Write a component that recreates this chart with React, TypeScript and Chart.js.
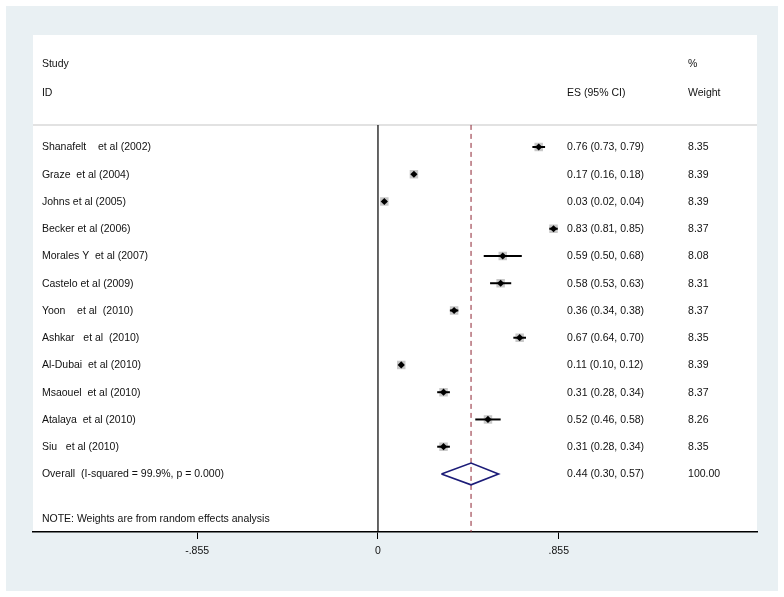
import React, { useEffect, useRef } from "react";
import { Chart, registerables } from "chart.js";

Chart.register(...registerables);

// ---- data ----
const studies = [
  "Shanafelt    et al (2002)",
  "Graze  et al (2004)",
  "Johns et al (2005)",
  "Becker et al (2006)",
  "Morales Y  et al (2007)",
  "Castelo et al (2009)",
  "Yoon    et al  (2010)",
  "Ashkar   et al  (2010)",
  "Al-Dubai  et al (2010)",
  "Msaouel  et al (2010)",
  "Atalaya  et al (2010)",
  "Siu   et al (2010)",
];
const es = [0.76, 0.17, 0.03, 0.83, 0.59, 0.58, 0.36, 0.67, 0.11, 0.31, 0.52, 0.31];
const ciLow = [0.73, 0.16, 0.02, 0.81, 0.5, 0.53, 0.34, 0.64, 0.1, 0.28, 0.46, 0.28];
const ciHigh = [0.79, 0.18, 0.04, 0.85, 0.68, 0.63, 0.38, 0.7, 0.12, 0.34, 0.58, 0.34];
const weights = ["8.35", "8.39", "8.39", "8.37", "8.08", "8.31", "8.37", "8.35", "8.39", "8.37", "8.26", "8.35"];

const overallLabel = "Overall  (I-squared = 99.9%, p = 0.000)";
const overallES = 0.44;
const overallLow = 0.3;
const overallHigh = 0.57;
const overallWeight = "100.00";

const noteText = "NOTE: Weights are from random effects analysis";
const headerStudy = ["Study", "ID"];
const headerES = "ES (95% CI)";
const headerWeight = ["%", "Weight"];

const tickValues = [-0.855, 0, 0.855];
const tickLabels = ["-.855", "0", ".855"];

// ---- layout (scale units) ----
const X_MIN = -1.631;
const X_MAX = 1.792;
const Y_MIN = -3.11;
const Y_MAX = 15.13;
const COL_STUDY = -1.589;
const COL_ES = 0.894;
const COL_W = 1.466;
const ROW_HDR1 = -2.05;
const ROW_HDR2 = -0.98;
const ROW_LINE = 0.19;
const ROW_OVERALL = 13;
const ROW_NOTE = 14.65;

const FONT = "'Liberation Sans', Arial, sans-serif";
const TEXT = "#111111";

const fmt = (v: number) => v.toFixed(2);

export default function App() {
  const ref = useRef<HTMLCanvasElement | null>(null);

  useEffect(() => {
    if (!ref.current) return;
    const rows = es.map((_, i) => i + 1);

    const whiskers = es.map((_, i) => ({
      type: "line" as const,
      data: [
        { x: ciLow[i], y: rows[i] },
        { x: ciHigh[i], y: rows[i] },
      ],
      borderColor: "#000",
      borderWidth: 2,
      pointRadius: 0,
      order: 1,
    }));

    const bgPlugin = {
      id: "bg",
      beforeDraw(chart: any) {
        const { ctx, chartArea } = chart;
        ctx.save();
        ctx.fillStyle = "#ffffff";
        ctx.fillRect(0, 0, chart.width, chart.height);
        ctx.fillStyle = "#e9f0f3";
        ctx.fillRect(6, 6, 772, 585);
        ctx.fillStyle = "#ffffff";
        ctx.fillRect(chartArea.left, chartArea.top, chartArea.right - chartArea.left, chartArea.bottom - chartArea.top);
        ctx.restore();
      },
    };

    const textPlugin = {
      id: "texts",
      afterDatasetsDraw(chart: any) {
        const { ctx } = chart;
        const xs = chart.scales.x;
        const ys = chart.scales.y;
        ctx.save();
        ctx.font = `10.5px ${FONT}`;
        ctx.fillStyle = TEXT;
        ctx.textBaseline = "middle";
        ctx.textAlign = "left";
        const put = (t: string, xv: number, yv: number) =>
          ctx.fillText(t, xs.getPixelForValue(xv), ys.getPixelForValue(yv) + 0.5);
        put(headerStudy[0], COL_STUDY, ROW_HDR1);
        put(headerStudy[1], COL_STUDY, ROW_HDR2);
        put(headerES, COL_ES, ROW_HDR2);
        put(headerWeight[0], COL_W, ROW_HDR1);
        put(headerWeight[1], COL_W, ROW_HDR2);
        studies.forEach((s, i) => {
          put(s, COL_STUDY, rows[i]);
          put(`${fmt(es[i])} (${fmt(ciLow[i])}, ${fmt(ciHigh[i])})`, COL_ES, rows[i]);
          put(weights[i], COL_W, rows[i]);
        });
        put(overallLabel, COL_STUDY, ROW_OVERALL);
        put(`${fmt(overallES)} (${fmt(overallLow)}, ${fmt(overallHigh)})`, COL_ES, ROW_OVERALL);
        put(overallWeight, COL_W, ROW_OVERALL);
        put(noteText, COL_STUDY, ROW_NOTE);
        ctx.restore();
      },
    };

    const chart = new Chart(ref.current, {
      type: "scatter",
      data: {
        datasets: [
          {
            type: "scatter",
            data: es.map((v, i) => ({ x: v, y: rows[i] })),
            pointStyle: "rectRot",
            pointRadius: 3.6,
            backgroundColor: "#000",
            borderColor: "#000",
            borderWidth: 0,
            order: 0,
          } as any,
          ...whiskers,
          {
            type: "scatter",
            data: es.map((v, i) => ({ x: v, y: rows[i] })),
            pointStyle: "rect",
            pointRadius: 6,
            backgroundColor: "#c8c8c8",
            borderWidth: 0,
            order: 2,
          } as any,
          {
            type: "line",
            data: [
              { x: overallLow, y: ROW_OVERALL },
              { x: overallES, y: ROW_OVERALL - 0.4 },
              { x: overallHigh, y: ROW_OVERALL },
              { x: overallES, y: ROW_OVERALL + 0.4 },
              { x: overallLow, y: ROW_OVERALL },
            ],
            borderColor: "#1c1c78",
            borderWidth: 1.6,
            pointRadius: 0,
            tension: 0,
            order: 1,
          },
          {
            type: "line",
            data: [
              { x: overallES, y: ROW_LINE },
              { x: overallES, y: Y_MAX },
            ],
            borderColor: "#8e2432",
            borderWidth: 1,
            borderDash: [5, 4],
            pointRadius: 0,
            order: 3,
          },
          {
            type: "line",
            data: [
              { x: 0, y: ROW_LINE },
              { x: 0, y: Y_MAX },
            ],
            borderColor: "#000",
            borderWidth: 1.2,
            pointRadius: 0,
            order: 3,
          },
          {
            type: "line",
            data: [
              { x: X_MIN, y: ROW_LINE },
              { x: X_MAX, y: ROW_LINE },
            ],
            borderColor: "#d8d8d8",
            borderWidth: 1.5,
            pointRadius: 0,
            order: 4,
          },
        ],
      },
      options: {
        animation: false,
        responsive: false,
        maintainAspectRatio: false,
        layout: { padding: { left: 33, right: 27, top: 35, bottom: 0 } },
        plugins: { legend: { display: false }, tooltip: { enabled: false }, title: { display: false } },
        scales: {
          x: {
            type: "linear",
            position: "bottom",
            min: X_MIN,
            max: X_MAX,
            grid: { display: true, drawOnChartArea: false, drawTicks: true, tickLength: 7, color: "#000", lineWidth: 1 },
            border: { display: true, color: "#000", width: 1.5 },
            ticks: {
              autoSkip: false,
              maxRotation: 0,
              color: TEXT,
              padding: 6,
              font: { family: FONT, size: 10.5 },
              callback: (_v: any, i: number) => tickLabels[i],
            },
            afterBuildTicks: (s: any) => {
              s.ticks = tickValues.map((v) => ({ value: v }));
            },
            afterFit: (s: any) => {
              s.height = 65;
            },
          },
          y: {
            type: "linear",
            display: false,
            reverse: true,
            min: Y_MIN,
            max: Y_MAX,
          },
        },
      },
      plugins: [bgPlugin, textPlugin],
    });
    return () => chart.destroy();
  }, []);

  return (
    <div style={{ position: "fixed", left: 0, top: 0, width: 784, height: 597, background: "#fff" }}>
      <canvas ref={ref} width={784} height={597} style={{ width: 784, height: 597, display: "block" }} />
    </div>
  );
}
